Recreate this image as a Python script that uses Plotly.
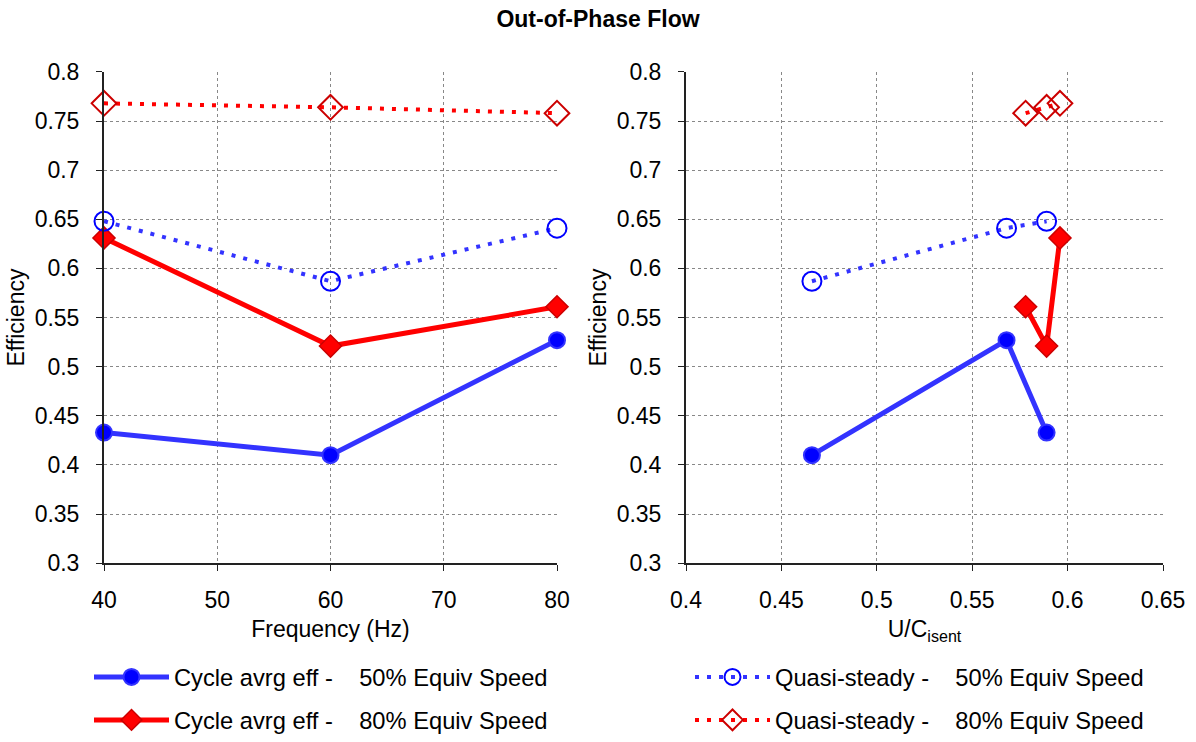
import plotly.graph_objects as go

# ---- data ----
freq = [40, 60, 80]
cyc50_freq = [0.433, 0.410, 0.527]
cyc80_freq = [0.631, 0.521, 0.561]
qs50_freq = [0.648, 0.587, 0.641]
qs80_freq = [0.768, 0.764, 0.758]

# right panel (ordered by U/C)
uc_cyc50 = [0.466, 0.568, 0.589]
eff_cyc50 = [0.410, 0.527, 0.433]
uc_cyc80 = [0.578, 0.589, 0.596]
eff_cyc80 = [0.561, 0.521, 0.631]
uc_qs50 = [0.466, 0.568, 0.589]
eff_qs50 = [0.587, 0.641, 0.648]
uc_qs80 = [0.578, 0.589, 0.596]
eff_qs80 = [0.758, 0.764, 0.768]

NB = "\u00a0"
names = [
    "Cycle avrg eff -" + NB * 4 + "50% Equiv Speed",
    "Cycle avrg eff -" + NB * 4 + "80% Equiv Speed",
    "Quasi-steady -" + NB * 4 + "50% Equiv Speed",
    "Quasi-steady -" + NB * 4 + "80% Equiv Speed",
]

BLUE = "#3333FF"
RED = "#FF0000"
FONT = "Liberation Sans, Arial, sans-serif"
FS = 23
LFS = 23.7

styles = [
    dict(line=dict(color=BLUE, width=5),
         marker=dict(symbol="circle", size=16, color="#0000FF", line=dict(color=BLUE, width=2))),
    dict(line=dict(color=RED, width=5),
         marker=dict(symbol="diamond", size=17, color=RED, line=dict(color="#CC0000", width=1.5))),
    dict(line=dict(color=BLUE, width=4, dash="4px,8px"),
         marker=dict(symbol="circle-open", size=19, color="#0000FF", line=dict(color="#0000FF", width=2))),
    dict(line=dict(color=RED, width=4, dash="4px,8px"),
         marker=dict(symbol="diamond-open", size=19, color="#CC0000", line=dict(color="#CC0000", width=2))),
]

fig = go.Figure()

left_y = [cyc50_freq, cyc80_freq, qs50_freq, qs80_freq]
right_x = [uc_cyc50, uc_cyc80, uc_qs50, uc_qs80]
right_y = [eff_cyc50, eff_cyc80, eff_qs50, eff_qs80]
legends = ["legend", "legend2", "legend3", "legend4"]

for i in range(4):
    fig.add_trace(go.Scatter(
        x=freq, y=left_y[i], mode="lines+markers", name=names[i],
        xaxis="x", yaxis="y", cliponaxis=False,
        legend=legends[i], legendgroup="g%d" % i, showlegend=True,
        **styles[i]))
for i in range(4):
    fig.add_trace(go.Scatter(
        x=right_x[i], y=right_y[i], mode="lines+markers", name=names[i],
        xaxis="x2", yaxis="y2", cliponaxis=False,
        legendgroup="g%d" % i, showlegend=False,
        **styles[i]))

W, H = 1196, 742
ydom = [1 - 564 / H, 1 - 72 / H]

axis_common = dict(
    showgrid=True, gridcolor="#888888", griddash="dot", gridwidth=1,
    showline=True, linecolor="#222222", linewidth=2,
    ticks="outside", ticklen=6, tickcolor="#222222",
    tickfont=dict(family=FONT, size=FS, color="black"),
    zeroline=False, mirror=False, automargin=False,
)


def leg(x, yc):
    return dict(x=x / W, y=1 - yc / H, xanchor="left", yanchor="middle",
                orientation="v", font=dict(family=FONT, size=LFS, color="black"),
                itemwidth=75, bgcolor="rgba(0,0,0,0)")


fig.update_layout(
    width=W, height=H,
    margin=dict(l=0, r=0, t=0, b=0),
    paper_bgcolor="white", plot_bgcolor="white",
    font=dict(family=FONT, color="black"),
    title=dict(text="<b>Out-of-Phase Flow</b>", x=0.5, xanchor="center",
               y=1 - 19 / H, yanchor="middle",
               font=dict(family=FONT, size=23, color="black")),
    xaxis=dict(domain=[104 / W, 557 / W], range=[40, 80], dtick=10, tick0=40,
               ticklabelstandoff=9,
               title=dict(text="Frequency (Hz)", font=dict(family=FONT, size=FS), standoff=9),
               anchor="y", **axis_common),
    yaxis=dict(domain=ydom, range=[0.3, 0.8], dtick=0.05, tick0=0.3,
               ticklabelstandoff=12,
               title=dict(text="Efficiency", font=dict(family=FONT, size=FS), standoff=4),
               anchor="x", **axis_common),
    xaxis2=dict(domain=[686 / W, 1163 / W], range=[0.4, 0.65], dtick=0.05, tick0=0.4,
                ticklabelstandoff=9,
                title=dict(text="U/C<sub>isent</sub>", font=dict(family=FONT, size=FS), standoff=9),
                anchor="y2", **axis_common),
    yaxis2=dict(domain=ydom, range=[0.3, 0.8], dtick=0.05, tick0=0.3,
                ticklabelstandoff=12,
                title=dict(text="Efficiency", font=dict(family=FONT, size=FS), standoff=4),
                anchor="x2", **axis_common),
    legend=leg(89, 677),
    legend2=leg(89, 721),
    legend3=leg(690, 677),
    legend4=leg(690, 721),
)

fig.write_html("out.html")
